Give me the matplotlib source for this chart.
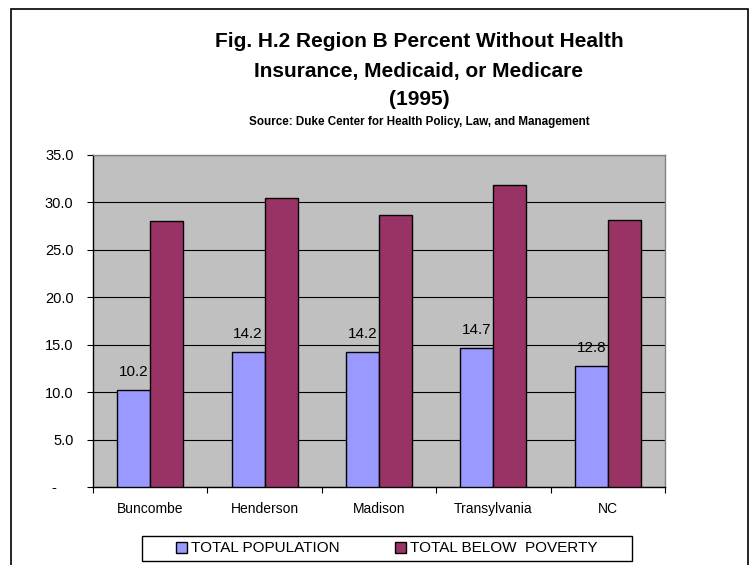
import matplotlib
matplotlib.use("Agg")
import matplotlib.pyplot as plt
from matplotlib.patches import Rectangle
import numpy as np

plt.rcParams['font.family'] = ['Liberation Sans', 'DejaVu Sans']

# data
counties = ['Buncombe', 'Henderson', 'Madison', 'Transylvania', 'NC']
total_population = [10.2, 14.2, 14.2, 14.7, 12.8]
below_poverty = [28.0, 30.5, 28.7, 31.8, 28.2]
y_ticks = [0, 5, 10, 15, 20, 25, 30, 35]
series_names = ['TOTAL POPULATION', 'TOTAL BELOW  POVERTY']

W, H = 752, 565
fig = plt.figure(figsize=(W / 100, H / 100), dpi=100)
fig.patch.set_facecolor('white')

# plot area in pixel units of the reference
left, right, top, bottom = 93, 665, 155, 487
ax = fig.add_axes([left / W, 1 - bottom / H, (right - left) / W, (bottom - top) / H])
ax.set_facecolor('#C0C0C0')

x = np.arange(len(counties))
bw = 0.288
bars1 = ax.bar(x - bw / 2, total_population, bw, color='#9999FF',
               edgecolor='black', linewidth=1.0, label=series_names[0], zorder=3)
bars2 = ax.bar(x + bw / 2, below_poverty, bw, color='#993366',
               edgecolor='black', linewidth=1.0, label=series_names[1], zorder=3)

# data labels on the population series only
for xi, v in zip(x - bw / 2, total_population):
    ax.annotate(f'{v:.1f}', (xi, v), xytext=(0, 10), textcoords='offset points',
                ha='center', va='baseline', fontsize=11)

ax.set_xlim(-0.5, len(counties) - 0.5)
ax.set_ylim(0, 35)

ax.set_yticks(y_ticks)
ax.set_yticklabels(['-    '] + [f'{t:.1f}' for t in y_ticks[1:]], fontsize=10.5)
ax.tick_params(axis='y', direction='out', length=4, width=0.8, pad=10)

# ticks on category boundaries, labels at category centres
ax.set_xticks(np.arange(len(counties) + 1) - 0.5)
ax.set_xticklabels([])
ax.set_xticks(x, minor=True)
ax.set_xticklabels(counties, minor=True, fontsize=10)
ax.tick_params(axis='x', which='major', direction='out', length=4, width=0.8)
ax.tick_params(axis='x', which='minor', length=0, pad=11)

ax.yaxis.grid(True, color='black', linewidth=0.8)
ax.set_axisbelow(True)
for s in ['left', 'bottom']:
    ax.spines[s].set_color('black')
    ax.spines[s].set_linewidth(1.0)
for s in ['top', 'right']:
    ax.spines[s].set_color('#808080')
    ax.spines[s].set_linewidth(1.0)

# titles
cx = 419 / W
fig.text(cx, 1 - 47 / H, 'Fig. H.2 Region B Percent Without Health', ha='center',
         va='baseline', fontsize=15, fontweight='bold')
fig.text(cx, 1 - 77 / H, 'Insurance, Medicaid, or Medicare', ha='center',
         va='baseline', fontsize=15, fontweight='bold')
fig.text(cx, 1 - 105 / H, '(1995)', ha='center', va='baseline',
         fontsize=15, fontweight='bold')
fig.text(cx, 1 - 125 / H, 'Source: Duke Center for Health Policy, Law, and Management',
         ha='center', va='baseline', fontsize=8.4, fontweight='bold')

# legend with its own frame
lx0, lx1, ly0, ly1 = 142, 632, 536, 561
fig.patches.append(Rectangle((lx0 / W, 1 - ly1 / H), (lx1 - lx0) / W, (ly1 - ly0) / H,
                             transform=fig.transFigure, fill=False,
                             edgecolor='black', linewidth=1.0))
fig.legend(handles=[bars1, bars2], labels=series_names, loc='center',
           bbox_to_anchor=((lx0 + lx1) / 2 / W, 1 - (ly0 + ly1) / 2 / H),
           bbox_transform=fig.transFigure, ncol=2, frameon=False, fontsize=11,
           handlelength=0.7, handleheight=0.7, handletextpad=0.3,
           columnspacing=3.6, borderpad=0.2)

# outer chart border
fig.patches.append(Rectangle((11 / W, -0.1), (748 - 11) / W, (H - 9) / H + 0.1,
                             transform=fig.transFigure, fill=False,
                             edgecolor='black', linewidth=1.2))

fig.savefig('out.png', dpi=100)
